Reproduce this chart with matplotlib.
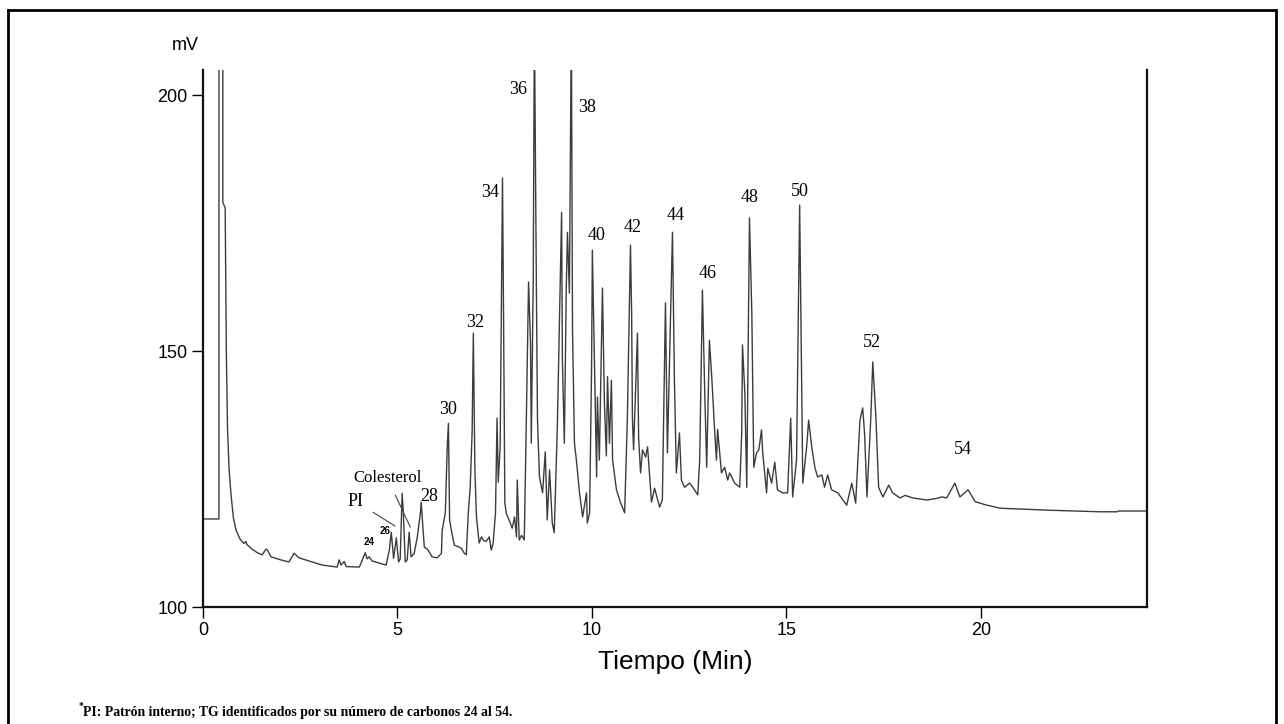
import numpy as np
import matplotlib
matplotlib.use('Agg')
import matplotlib.pyplot as plt
from matplotlib.patches import Rectangle

plt.rcParams['font.family'] = ['Liberation Sans', 'DejaVu Sans']

# retention time (min) and detector signal (mV)
tiempo = [0.03, 0.41, 0.41, 0.51, 0.51, 0.57, 0.60, 0.63, 0.67, 0.72, 0.78, 0.85, 0.95, 1.05,
          1.10, 1.13, 1.26, 1.40, 1.52, 1.62, 1.65, 1.75, 2.00, 2.21, 2.34, 2.47, 2.81, 3.06,
          3.45, 3.50, 3.55, 3.63, 3.68, 4.02, 4.17, 4.22, 4.27, 4.35, 4.61, 4.71, 4.79, 4.84,
          4.90, 4.97, 5.03, 5.07, 5.12, 5.15, 5.20, 5.25, 5.30, 5.35, 5.43, 5.51, 5.59, 5.61,
          5.64, 5.69, 5.77, 5.82, 5.89, 6.02, 6.13, 6.15, 6.23, 6.28, 6.31, 6.34, 6.38, 6.46,
          6.64, 6.72, 6.77, 6.82, 6.87, 6.92, 6.95, 6.99, 7.03, 7.10, 7.16, 7.21, 7.28, 7.36,
          7.41, 7.46, 7.52, 7.56, 7.59, 7.64, 7.70, 7.73, 7.76, 7.80, 7.88, 7.95, 8.01, 8.06,
          8.08, 8.13, 8.19, 8.26, 8.31, 8.37, 8.42, 8.44, 8.49, 8.52, 8.57, 8.60, 8.65, 8.73,
          8.80, 8.85, 8.91, 8.98, 9.03, 9.11, 9.22, 9.24, 9.29, 9.34, 9.37, 9.42, 9.47, 9.50,
          9.55, 9.60, 9.68, 9.76, 9.86, 9.88, 9.94, 9.99, 10.01, 10.06, 10.12, 10.14, 10.19,
          10.27, 10.32, 10.37, 10.40, 10.45, 10.50, 10.53, 10.63, 10.73, 10.84, 10.91, 10.99,
          11.02, 11.04, 11.07, 11.12, 11.17, 11.20, 11.25, 11.30, 11.38, 11.43, 11.53, 11.61,
          11.74, 11.81, 11.89, 11.94, 12.07, 12.12, 12.17, 12.25, 12.30, 12.38, 12.51, 12.59,
          12.72, 12.77, 12.84, 12.90, 12.95, 13.02, 13.08, 13.15, 13.20, 13.23, 13.33, 13.41,
          13.49, 13.54, 13.67, 13.80, 13.85, 13.87, 13.93, 13.98, 14.05, 14.11, 14.16, 14.23,
          14.29, 14.36, 14.39, 14.49, 14.52, 14.62, 14.70, 14.77, 14.90, 15.03, 15.11, 15.16,
          15.26, 15.34, 15.39, 15.42, 15.52, 15.57, 15.65, 15.73, 15.80, 15.91, 15.98, 16.06,
          16.16, 16.32, 16.55, 16.68, 16.78, 16.89, 16.96, 17.01, 17.07, 17.17, 17.22, 17.30,
          17.37, 17.48, 17.63, 17.73, 17.92, 18.05, 18.25, 18.61, 18.85, 19.00, 19.12, 19.33,
          19.46, 19.67, 19.85, 20.10, 20.49, 21.78, 23.06, 23.50, 23.55, 24.27]
senal = [117.2, 117.2, 215.0, 215.0, 179.0, 178.0, 150.0, 135.0, 127.0, 122.0, 117.5, 115.0, 113.3, 112.4,
         112.8, 112.2, 111.3, 110.6, 110.2, 111.3, 111.2, 109.8, 109.2, 108.8, 110.5, 109.6, 108.8, 108.2,
         107.8, 109.2, 108.2, 108.9, 107.9, 107.8, 110.6, 109.4, 109.8, 109.0, 108.4, 108.2, 111.1, 114.6,
         109.5, 113.5, 108.8, 109.4, 122.2, 118.5, 108.8, 109.2, 114.6, 109.8, 110.5, 113.7, 118.4, 120.5,
         117.0, 111.7, 111.3, 110.7, 109.8, 109.6, 110.5, 115.0, 118.4, 131.3, 135.9, 117.0, 115.2, 112.1,
         111.5, 110.5, 110.2, 118.4, 123.4, 134.5, 153.5, 127.0, 117.6, 112.5, 113.7, 113.0, 112.8, 113.7,
         111.1, 112.5, 118.4, 136.9, 124.4, 131.3, 183.8, 154.0, 120.3, 118.2, 116.8, 115.4, 117.6, 113.7,
         124.8, 113.1, 114.0, 113.1, 135.2, 163.5, 151.6, 132.0, 163.5, 215.0, 163.5, 136.5, 125.4, 122.3,
         130.3, 117.0, 126.8, 116.4, 114.5, 135.2, 177.1, 148.2, 132.0, 162.5, 173.2, 161.3, 215.0, 154.1,
         132.0, 128.7, 122.3, 117.6, 122.3, 116.4, 118.4, 146.9, 169.7, 149.6, 125.4, 141.0, 128.7,
         162.3, 139.9, 129.5, 145.0, 132.0, 144.3, 128.7, 122.9, 120.5, 118.4, 136.7, 170.7,
         157.4, 137.1, 130.7, 142.4, 153.5, 133.0, 126.2, 130.7, 129.3, 131.3, 120.5, 123.2,
         119.5, 120.9, 159.4, 130.1, 173.2, 144.3, 126.2, 134.0, 124.8, 123.4, 124.2, 123.4,
         121.9, 128.7, 161.9, 141.8, 127.3, 152.1, 144.9, 135.0, 128.7, 134.7, 126.2, 127.3,
         124.8, 126.2, 124.2, 123.4, 134.0, 151.2, 141.8, 123.4, 176.0, 157.4, 127.3, 130.1,
         130.7, 134.6, 130.1, 122.3, 127.1, 124.2, 128.3, 122.9, 122.3, 122.3, 136.9, 121.5,
         128.7, 178.5, 144.9, 124.2, 131.3, 136.5, 131.3, 127.3, 125.4, 125.8, 123.4, 125.8,
         122.9, 122.3, 119.9, 124.2, 120.3, 136.5, 138.9, 133.8, 121.5, 137.1, 147.9, 137.1,
         123.4, 121.5, 123.8, 122.3, 121.3, 121.8, 121.3, 120.9, 121.2, 121.5, 121.3, 124.2,
         121.5, 122.9, 120.6, 120.0, 119.3, 118.9, 118.6, 118.6, 118.75, 118.75]

# carbon number labels and where they sit
carbonos = ['30', '32', '34', '36', '38', '40', '42', '44', '46', '48', '50', '52', '54', '28']
pos_carbonos = [(6.31, 138.5), (7.00, 155.5), (7.39, 180.9), (8.11, 201.0), (9.88, 197.5),
                (10.12, 172.5), (11.04, 174.2), (12.15, 176.4), (12.97, 165.2), (14.05, 179.9),
                (15.34, 181.2), (17.19, 151.6), (19.54, 130.7), (5.82, 121.5)]
pequenos = ['24', '26']
pos_pequenos = [(4.27, 112.7), (4.68, 114.8)]

fig = plt.figure(figsize=(12.84, 7.24), dpi=100)
ax = fig.add_axes([0.1581, 0.1616, 0.7352, 0.7417])

ax.plot(tiempo, senal, color='#3c3c3c', lw=1.0)

ax.set_xlim(0, 24.27)
ax.set_ylim(100, 204.9)
ax.set_xticks([0, 5, 10, 15, 20])
ax.set_yticks([100, 150, 200])
ax.tick_params(direction='out', length=8, width=1, labelsize=13, colors='black', pad=3)
ax.spines['top'].set_visible(False)
for s in ['left', 'bottom', 'right']:
    ax.spines[s].set_linewidth(1.6)
    ax.spines[s].set_color('#111111')

ax.set_xlabel('Tiempo (Min)', fontsize=19, labelpad=8)
fig.text(0.144, 0.937, 'mV', fontsize=13, ha='center', va='center')

for lab, (x, y) in zip(carbonos, pos_carbonos):
    ax.text(x, y, lab, family='Liberation Serif', fontsize=13, ha='center', va='center')
for lab, (x, y) in zip(pequenos, pos_pequenos):
    ax.text(x, y, lab, fontsize=7, fontweight='bold', ha='center', va='center')

ax.annotate('PI', xy=(4.94, 115.8), xytext=(3.91, 120.7), family='Liberation Serif', fontsize=13,
            ha='center', va='center',
            arrowprops=dict(arrowstyle='-', color='#444444', lw=0.8, shrinkA=6, shrinkB=0))
ax.annotate('Colesterol', xy=(5.33, 115.6), xytext=(4.74, 125.2), family='Liberation Serif',
            fontsize=12, ha='center', va='center',
            arrowprops=dict(arrowstyle='-', color='#444444', lw=0.8, shrinkA=5, shrinkB=0))

# footnote
fig.text(0.0615, 0.022, '*', family='Liberation Serif', fontsize=7, fontweight='bold', va='baseline')
fig.text(0.065, 0.011, 'PI: Patrón interno; TG identificados por su número de carbonos 24 al 54.',
         family='Liberation Serif', fontsize=9.9, fontweight='bold', va='baseline')

# outer frame
fig.patches.append(Rectangle((0.0062, -0.05), 0.9876, 1.036, transform=fig.transFigure,
                             fill=False, edgecolor='black', lw=2))

fig.savefig('out.png', dpi=100)
